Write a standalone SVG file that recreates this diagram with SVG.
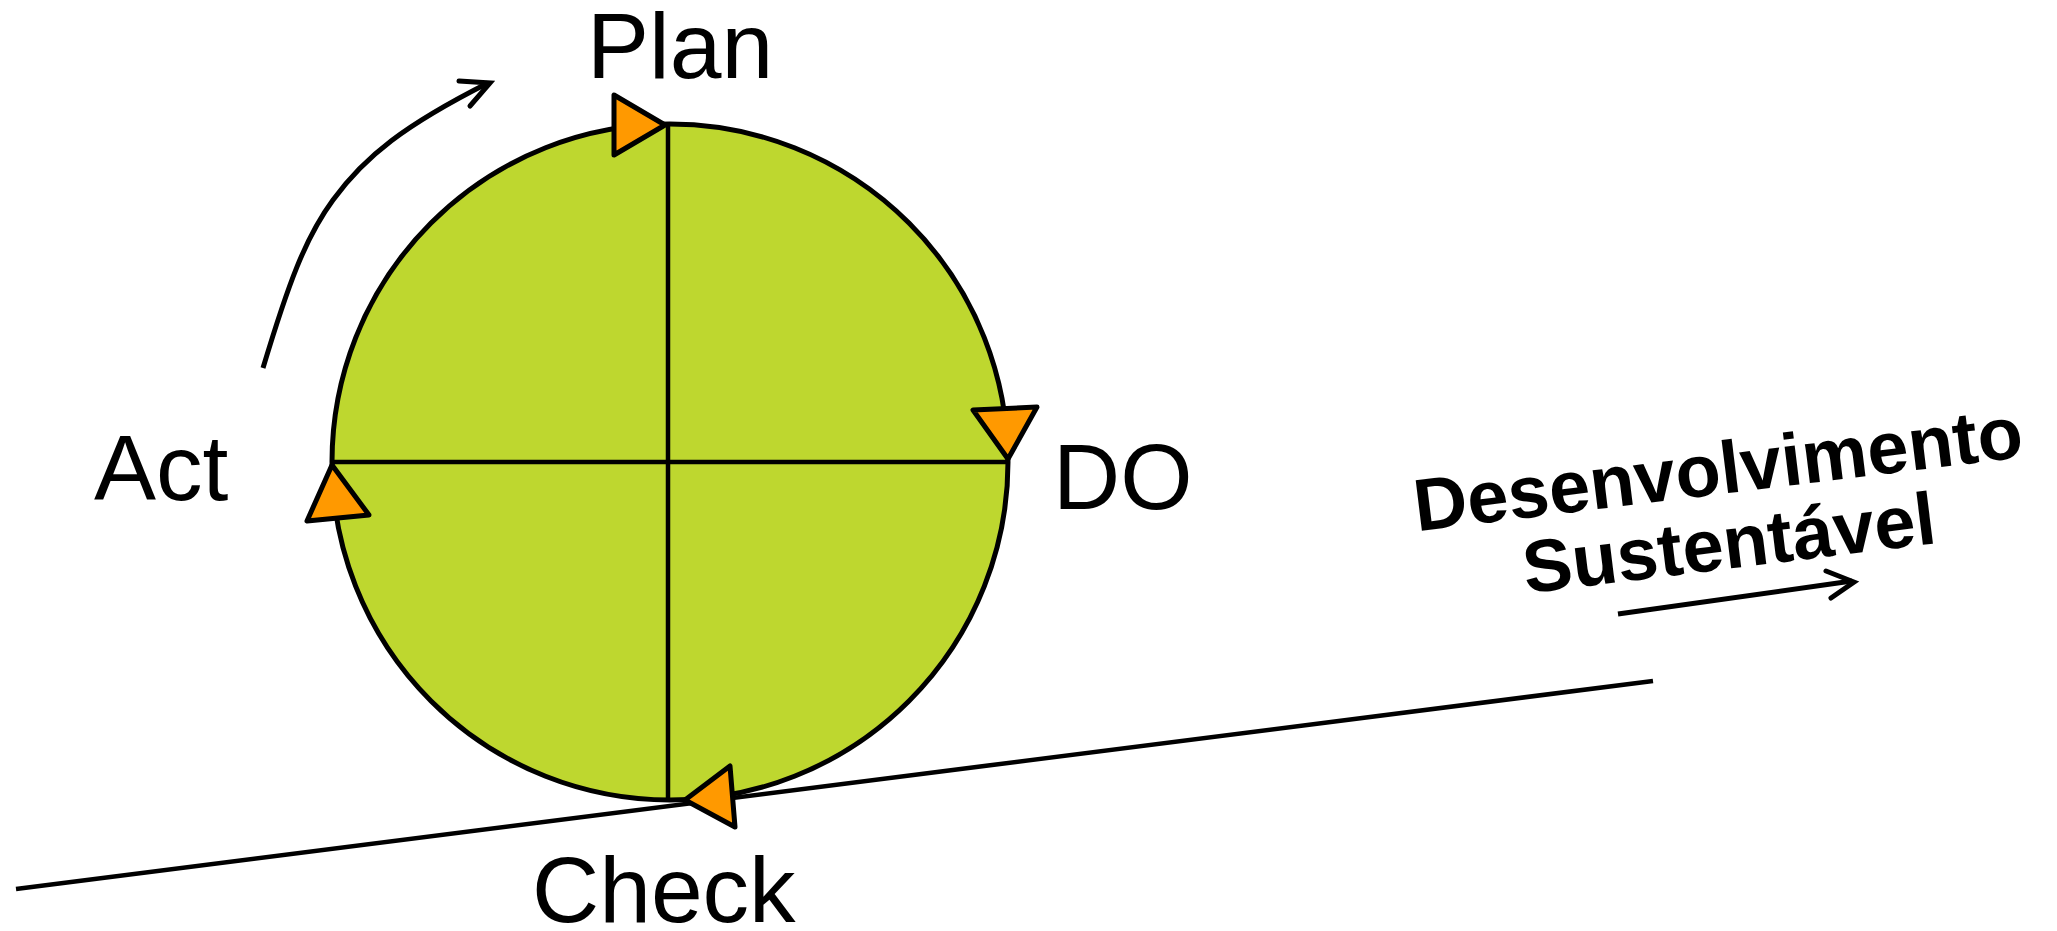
<svg xmlns="http://www.w3.org/2000/svg" width="2057" height="931" viewBox="0 0 2057 931">
<defs>
<style>
.lbl{font-family:"Liberation Sans",Arial,sans-serif;font-size:93px;fill:#000}
.bold{font-family:"Liberation Sans",Arial,sans-serif;font-size:74px;font-weight:bold;fill:#000}
.ln{stroke:#000;stroke-width:4.5;fill:none;stroke-linecap:butt}
.arr{stroke:#000;stroke-width:5;fill:none;stroke-linecap:round;stroke-linejoin:miter}
.tri{fill:#FF9900;stroke:#000;stroke-width:5;stroke-linejoin:round}
</style>
</defs>
<rect width="2057" height="931" fill="#fff"/>
<g id="cycle">
<circle cx="670" cy="462" r="338" fill="#BED72F" stroke="#000" stroke-width="5"/>
</g>
<g id="connectors">
<line class="ln" x1="668" y1="124" x2="668" y2="802"/>
<line class="ln" x1="332" y1="462" x2="1008" y2="462"/>
<line class="ln" x1="16" y1="889" x2="1653" y2="681"/>
<path class="arr" d="M263,368 C288,285 305,238 333,200 C365,156 405,125 488,83" style="stroke-linecap:butt"/>
<path class="arr" d="M459,81 L490,83 L470,106"/>
<path class="arr" d="M1618,614 L1852,581" style="stroke-linecap:butt"/>
<path class="arr" d="M1826,571 L1854,582 L1831,598"/>
</g>
<g id="plan">
<polygon class="tri" points="614,95 614,155 665,125"/>
<text class="lbl" x="587" y="78">Plan</text>
</g>
<g id="do">
<polygon class="tri" points="973,410 1037,407 1008,459"/>
<text class="lbl" x="1053" y="509">DO</text>
</g>
<g id="act">
<polygon class="tri" points="332,465 307,521 369,515"/>
<text class="lbl" x="94" y="500">Act</text>
</g>
<g id="check">
<polygon class="tri" points="685,800 730,766 735,827"/>
<text class="lbl" x="532" y="922">Check</text>
</g>
<g id="desenvolvimento" transform="translate(1721,494) rotate(-7)">
<text class="bold" x="0" y="0" text-anchor="middle">Desenvolvimento</text>
<text class="bold" x="2" y="75" text-anchor="middle">Sustentável</text>
</g>
</svg>
